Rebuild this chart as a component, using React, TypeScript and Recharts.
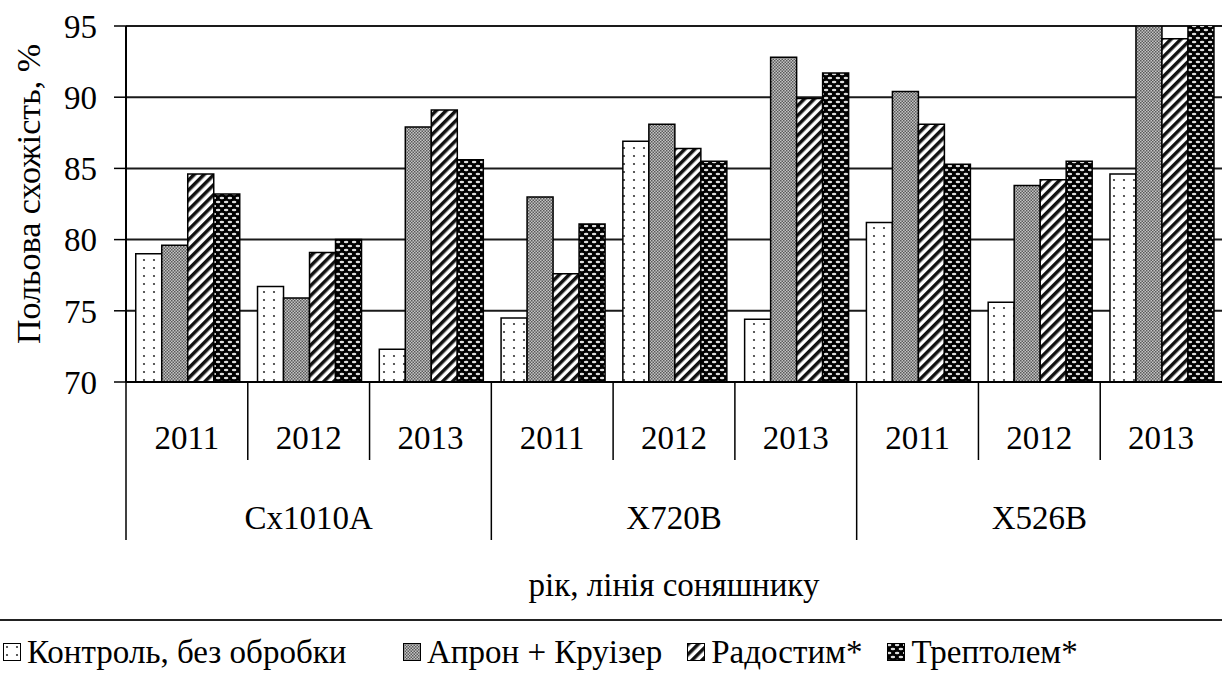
import { Bar, BarChart, CartesianGrid, Legend, XAxis, YAxis } from 'recharts'

const LINES = ['Cx1010A', 'X720B', 'X526B']
const YEARS = ['2011', '2012', '2013']

// values go line by line, 2011..2013 inside each line
const CONTROL = [79.0, 76.7, 72.3, 74.5, 86.9, 74.4, 81.2, 75.6, 84.6]
const APRON = [79.6, 75.9, 87.9, 83.0, 88.1, 92.8, 90.4, 83.8, 95.0]
const RADOSTIM = [84.6, 79.1, 89.1, 77.6, 86.4, 89.9, 88.1, 84.2, 94.1]
const TREPTOLEM = [83.2, 80.0, 85.6, 81.1, 85.5, 91.7, 85.3, 85.5, 95.3]

const Y_TICKS = [70, 75, 80, 85, 90, 95]

const SERIES = [
  { key: 'control', name: 'Контроль, без обробки', fill: 'url(#pControl)' },
  { key: 'apron', name: 'Апрон + Круізер', fill: 'url(#pApron)' },
  { key: 'radostim', name: 'Радостим*', fill: 'url(#pRad)' },
  { key: 'trep', name: 'Трептолем*', fill: 'url(#pTrep)' },
]

const data = LINES.flatMap((line, li) =>
  YEARS.map((year, yi) => {
    const i = li * YEARS.length + yi
    return {
      id: `${line}-${year}`,
      line,
      year,
      control: CONTROL[i],
      apron: APRON[i],
      radostim: RADOSTIM[i],
      trep: TREPTOLEM[i],
    }
  })
)

const W = 1222
const H = 675
const PLOT_LEFT = 126
const PLOT_TOP = 26
const PLOT_BOTTOM = 382
const BAND = (W - PLOT_LEFT) / data.length
const FONT = 'Liberation Serif, Tinos, Times New Roman, Times, DejaVu Serif, serif'

function CategoryTick(props: any) {
  const { x, y, index } = props
  const row = data[index]
  if (!row) return null
  const left = x - BAND / 2
  const groupStart = index % YEARS.length === 0
  return (
    <g>
      <line x1={left} x2={left} y1={y} y2={y + (groupStart ? 158 : 78)} stroke="#000" strokeWidth={1.5} />
      <text x={x} y={y + 67} textAnchor="middle" fontSize={33} style={{ fontFamily: FONT }} fill="#000">
        {row.year}
      </text>
      {index % YEARS.length === 1 && (
        <text x={x} y={y + 147} textAnchor="middle" fontSize={33} style={{ fontFamily: FONT }} fill="#000">
          {row.line}
        </text>
      )}
    </g>
  )
}

function LegendBox() {
  return (
    <div
      style={{
        borderTop: '2px solid #222',
        height: 54,
        boxSizing: 'border-box',
        display: 'flex',
        alignItems: 'flex-start',
        gap: 25,
        paddingLeft: 3,
        paddingTop: 12,
        fontFamily: FONT,
        fontSize: 33,
        lineHeight: '38px',
        color: '#000',
      }}
    >
      {SERIES.map((s, i) => (
        <div
          key={s.key}
          style={{
            display: 'flex',
            alignItems: 'center',
            gap: 6,
            whiteSpace: 'nowrap',
            flex: 'none',
            minWidth: i === 0 ? 375 : undefined,
          }}
        >
          <svg width={18} height={18} style={{ display: 'block', flex: 'none' }}>
            <rect x={0.5} y={0.5} width={17} height={17} fill={s.fill} stroke="#000" strokeWidth={1} />
          </svg>
          <span>{s.name}</span>
        </div>
      ))}
    </div>
  )
}

export default function App() {
  return (
    <div style={{ position: 'absolute', left: 0, top: 0, width: W, height: H, background: '#fff' }}>
      <BarChart
        width={W}
        height={H}
        data={data}
        margin={{ top: PLOT_TOP, right: 0, bottom: 0, left: 0 }}
        barCategoryGap="8%"
        barGap={0}
      >
        <defs>
          <pattern id="pControl" width={10} height={8} patternUnits="userSpaceOnUse">
            <rect width={10} height={8} fill="#fff" />
            <circle cx={4} cy={4} r={1.1} fill="#333" />
          </pattern>
          <pattern id="pApron" width={3} height={3} patternUnits="userSpaceOnUse">
            <rect width={3} height={3} fill="#c4c4c4" />
            <rect width={1.5} height={1.5} fill="#5a5a5a" />
            <rect x={1.5} y={1.5} width={1.5} height={1.5} fill="#5a5a5a" />
          </pattern>
          <pattern id="pRad" width={7} height={7} patternUnits="userSpaceOnUse" patternTransform="rotate(45)">
            <rect width={7} height={7} fill="#fff" />
            <rect width={3.5} height={7} fill="#111" />
          </pattern>
          <pattern id="pTrep" width={8} height={8} patternUnits="userSpaceOnUse">
            <rect width={8} height={8} fill="#000" />
            <ellipse cx={2} cy={2} rx={2.4} ry={1.2} fill="#ddd" />
            <ellipse cx={6} cy={6} rx={2.4} ry={1.2} fill="#ddd" />
          </pattern>
        </defs>
        <CartesianGrid vertical={false} stroke="#1a1a1a" strokeWidth={2} />
        <XAxis
          dataKey="id"
          height={H - PLOT_BOTTOM}
          interval={0}
          tickSize={0}
          tickMargin={0}
          tickLine={false}
          axisLine={{ stroke: '#000', strokeWidth: 2 }}
          tick={<CategoryTick />}
        />
        <YAxis
          width={PLOT_LEFT}
          domain={[70, 95]}
          ticks={Y_TICKS}
          allowDataOverflow
          tickSize={12}
          tickMargin={17}
          tickLine={{ stroke: '#000', strokeWidth: 1.5 }}
          axisLine={{ stroke: '#000', strokeWidth: 2 }}
          tick={{ fill: '#000', fontSize: 33, style: { fontFamily: FONT } }}
        />
        {SERIES.map((s) => (
          <Bar
            key={s.key}
            dataKey={s.key}
            name={s.name}
            fill={s.fill}
            stroke="#000"
            strokeWidth={1.5}
            isAnimationActive={false}
          />
        ))}
        <text
          x={40}
          y={194}
          transform="rotate(-90, 40, 194)"
          textAnchor="middle"
          fontSize={34}
          style={{ fontFamily: FONT }}
          fill="#000"
        >
          Польова схожість, %
        </text>
        <text
          x={(PLOT_LEFT + W) / 2}
          y={596}
          textAnchor="middle"
          fontSize={33}
          style={{ fontFamily: FONT }}
          fill="#000"
        >
          рік, лінія соняшнику
        </text>
        <Legend
          layout="horizontal"
          verticalAlign="middle"
          align="center"
          content={<LegendBox />}
          wrapperStyle={{ position: 'absolute', left: 0, top: 619, width: W, height: 54, margin: 0 }}
        />
      </BarChart>
    </div>
  )
}
